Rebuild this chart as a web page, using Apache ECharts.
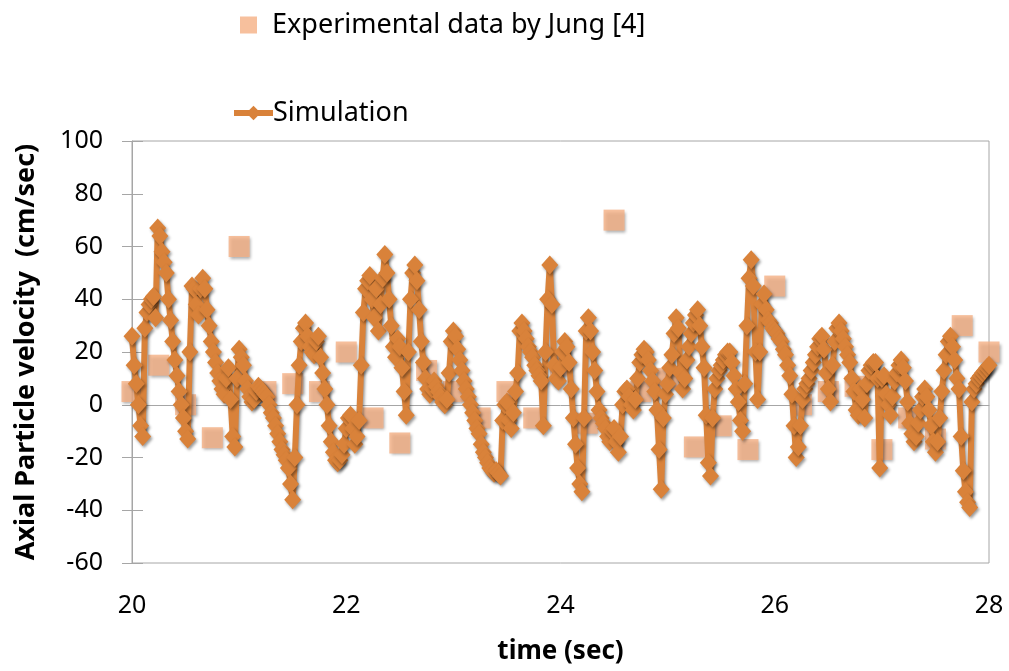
<!DOCTYPE html>
<html>
<head>
<meta charset="utf-8">
<script src="https://cdn.jsdelivr.net/npm/echarts@6/dist/echarts.min.js"></script>
<style>
  html, body { margin: 0; padding: 0; background: #fff; }
  #chart { width: 1009px; height: 671px; }
</style>
</head>
<body>
<div id="chart"></div>
<script>
// Simulation output: axial particle velocity (cm/sec), sampled every 0.02 s from t = 20 s
const simStartTime = 20;
const simTimeStep = 0.02;
const simulationVelocity = [
  26, 15, 8, 0, -8, -12, 29, 35, 38, 40,          // 20.00 - 20.18
  41, 33, 67, 64, 58, 54, 50, 40, 32, 24,         // 20.20
  17, 11, 5, 0, -5, -10, -13, 20, 45, 44,         // 20.40
  38, 34, 44, 48, 44, 36, 30, 24, 20, 16,         // 20.60
  12, 9, 6, 4, 10, 14, 2, -12, -16, 10,           // 20.80
  21, 18, 15, 9, 6, 3, 1, 2, 5, 7,                // 21.00
  6, 5, 4, 3, 0, -3, -5, -8, -11, -14,            // 21.20
  -17, -19, -21, -24, -30, -36, -20, 0, 15, 24,   // 21.40
  29, 31, 26, 22, 20, 19, 24, 26, 18, 12,         // 21.60
  6, 0, -8, -14, -18, -21, -22, -21, -19, -15,    // 21.80
  -9, -5, -4, -9, -15, -12, -6, 15, 35, 44,       // 22.00
  47, 49, 40, 33, 44, 28, 38, 48, 57, 50,         // 22.20
  40, 30, 22, 18, 25, 22, 14, 5, -4, 20,          // 22.40
  40, 50, 53, 47, 36, 24, 16, 10, 6, 4,           // 22.60
  6, 9, 7, 5, 3, 1, 0, 2, 12, 24,                 // 22.80
  28, 26, 21, 17, 13, 9, 6, 3, 0, -3,             // 23.00
  -6, -9, -11, -15, -18, -20, -22, -24, -25, -26, // 23.20
  -25, -26, -27, -6, 0, 1, -6, -9, -3, 5,         // 23.40
  12, 28, 31, 28, 25, 22, 20, 18, 15, 13,         // 23.60
  11, 9, -8, 20, 40, 53, 38, 15, 10, 9,           // 23.80
  14, 20, 24, 22, 16, 6, -5, -15, -24, -30,       // 24.00
  -33, -5, 28, 33, 28, 20, 13, 5, -2, -5,         // 24.20
  -7, -9, -12, -14, -10, -9, -14, -18, -12, 0,    // 24.40
  5, 6, 3, 0, -2, 2, 10, 16, 19, 21,              // 24.60
  20, 17, 13, 9, 5, -2, -17, -32, -5, 4,          // 24.80
  8, 14, 19, 27, 33, 29, 12, 6, 10, 17,           // 25.00
  22, 27, 31, 34, 36, 30, 22, 14, -4, -22,        // 25.20
  -27, -5, 6, 10, 13, 15, 17, 19, 20, 20,         // 25.40
  16, 11, 6, 1, -6, -10, 8, 30, 48, 55,           // 25.60
  45, 20, 2, 20, 38, 42, 36, 32, 31, 29,          // 25.80
  28, 27, 25, 24, 21, 19, 15, 11, 4, -8,          // 26.00
  -20, -16, -8, 2, 6, 8, 10, 13, 16, 19,          // 26.20
  22, 25, 26, 21, 12, 6, 1, 15, 24, 29,           // 26.40
  31, 28, 25, 22, 19, 16, 10, 5, -2, -4,          // 26.60
  6, 2, -5, 8, 13, 15, 16, 16, 10, -24,           // 26.80
  10, 11, 4, 0, -4, 3, 9, 12, 15, 17,             // 27.00
  14, 9, 1, -7, -11, -14, -12, -7, -2, 3,         // 27.20
  6, 3, -2, -8, -14, -18, -14, -5, 5, 13,         // 27.40
  19, 24, 26, 22, 17, 10, 6, -12, -25, -33,       // 27.60
  -37, -39, 1, 6, 8, 10, 11, 12, 13, 14,          // 27.80
  15                                              // 28.00
];

// Experimental measurements (Jung [4])
const experimentTime = [
  20, 20.25, 20.5, 20.75, 21, 21.25, 21.5, 21.75, 22, 22.25, 22.5,
  22.75, 23, 23.25, 23.5, 23.75, 24, 24.25, 24.5, 24.75, 25, 25.25,
  25.5, 25.75, 26, 26.25, 26.5, 26.75, 27, 27.25, 27.5, 27.75, 28
];
const experimentVelocity = [
  5, 15, 0, -12.5, 60, 5, 8, 5, 20, -5, -14.5,
  13, 5, -5, 5, -5, 15, -7, 70, 5, 10, -16,
  -8, -17, 45, 0, 5, 7, -17, -5, -13, 30, 20
];

// Axis ranges and tick spacing
const xTicks = { min: 20, max: 28, interval: 2 };
const yTicks = { min: -60, max: 100, interval: 20 };

const seriesNames = ['Experimental data by Jung [4]', 'Simulation'];
const axisTitles = { x: 'time (sec)', y: 'Axial Particle velocity  (cm/sec)' };

const FONT = '"Noto Sans", "Open Sans", sans-serif';
const SIM_COLOR = '#D9823A';
const EXP_COLOR = '#F5B084';
const FRAME = '#A6A6A6';

const simData = simulationVelocity.map((v, i) => [
  +(simStartTime + i * simTimeStep).toFixed(2), v
]);
const expData = experimentTime.map((t, i) => [t, experimentVelocity[i]]);

const chart = echarts.init(document.getElementById('chart'), null, { renderer: 'canvas' });

const shadow = {
  shadowBlur: 3,
  shadowColor: 'rgba(0,0,0,0.4)',
  shadowOffsetX: 1.5,
  shadowOffsetY: 2
};

chart.setOption({
  animation: false,
  backgroundColor: '#fff',
  textStyle: { fontFamily: FONT, color: '#000' },
  grid: {
    left: 132, right: 20, top: 141, bottom: 108,
    show: true, borderColor: FRAME, borderWidth: 1
  },
  legend: [
    {
      data: [seriesNames[0]],
      left: 235, top: 5,
      icon: 'rect',
      itemWidth: 17, itemHeight: 17,
      textStyle: { fontFamily: FONT, fontSize: 27, lineHeight: 30, color: '#000', padding: [0, 0, 0, 10] }
    },
    {
      data: [seriesNames[1]],
      left: 226, top: 93,
      itemWidth: 39, itemHeight: 18,
      lineStyle: { width: 6 },
      textStyle: { fontFamily: FONT, fontSize: 27, lineHeight: 30, color: '#000', padding: [0, 0, 0, -5] }
    }
  ],
  xAxis: [
    {
      type: 'value',
      min: xTicks.min, max: xTicks.max, interval: xTicks.interval,
      axisLine: { show: false, onZero: false },
      axisTick: { show: false },
      splitLine: { show: false },
      axisLabel: { fontFamily: FONT, fontSize: 25, color: '#000', margin: 30 },
      name: axisTitles.x,
      nameLocation: 'middle',
      nameGap: 76,
      nameTextStyle: { fontFamily: FONT, fontSize: 26, fontWeight: 'bold', color: '#000' }
    },
    {
      // zero line across the plot
      type: 'value',
      position: 'bottom',
      min: xTicks.min, max: xTicks.max,
      axisLine: { show: true, onZero: true, lineStyle: { color: FRAME, width: 1 } },
      axisTick: { show: false },
      axisLabel: { show: false },
      splitLine: { show: false }
    }
  ],
  yAxis: [
    {
      type: 'value',
      min: yTicks.min, max: yTicks.max, interval: yTicks.interval,
      axisLine: { show: true, lineStyle: { color: FRAME, width: 1 } },
      axisTick: { show: true, length: 10, lineStyle: { color: FRAME } },
      splitLine: { show: false },
      axisLabel: { fontFamily: FONT, fontSize: 25, color: '#000', margin: 29 },
      name: axisTitles.y,
      nameLocation: 'middle',
      nameRotate: 90,
      nameGap: 92,
      nameTextStyle: { fontFamily: FONT, fontSize: 27, fontWeight: 'bold', color: '#000' }
    },
    {
      // inner half of the cross tick marks
      type: 'value',
      position: 'left',
      min: yTicks.min, max: yTicks.max, interval: yTicks.interval,
      axisLine: { show: false },
      axisTick: { show: true, inside: true, length: 11, lineStyle: { color: FRAME } },
      axisLabel: { show: false },
      splitLine: { show: false }
    }
  ],
  series: [
    {
      name: seriesNames[0],
      type: 'scatter',
      data: expData,
      symbol: 'rect',
      symbolSize: 21,
      itemStyle: Object.assign({ color: EXP_COLOR }, shadow),
      z: 2
    },
    {
      name: seriesNames[1],
      type: 'line',
      data: simData,
      symbol: 'diamond',
      symbolSize: [17, 19],
      showAllSymbol: true,
      lineStyle: Object.assign({ color: SIM_COLOR, width: 6 }, shadow),
      itemStyle: Object.assign({ color: SIM_COLOR }, shadow),
      z: 3
    }
  ]
});
</script>
</body>
</html>
